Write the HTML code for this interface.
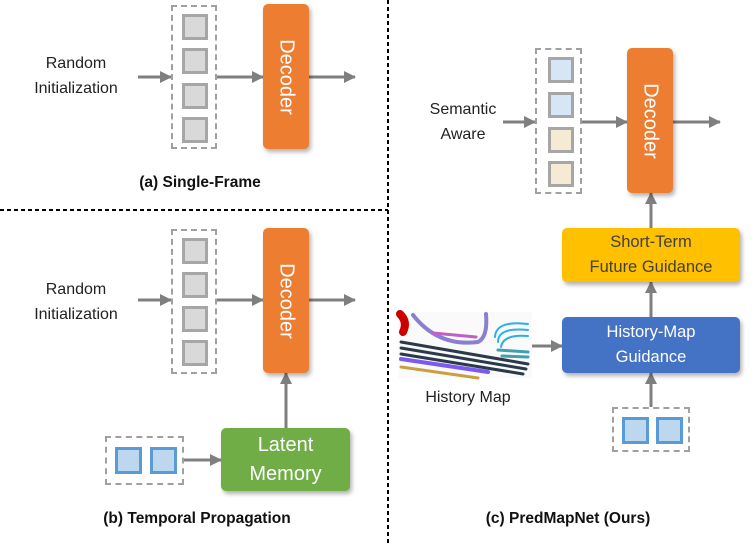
<!DOCTYPE html>
<html><head><style>
body{margin:0;width:753px;height:545px;background:#fff;overflow:hidden;position:relative;font-family:"Liberation Sans",sans-serif}
.a{position:absolute}
.t{position:absolute;font-size:16px;color:#222;text-align:center;line-height:25px;white-space:nowrap}
.cap{position:absolute;font-size:15.5px;font-weight:bold;color:#111;white-space:nowrap;transform:translateX(-50%)}
.dec{position:absolute;background:#ed7d31;border-radius:5px;box-shadow:2px 3px 4px rgba(0,0,0,.3)}
.dec span{position:absolute;left:50%;top:50%;transform:translate(-50%,-50%) rotate(90deg);color:#fff;font-size:20px;white-space:nowrap}
.dash{position:absolute;border:2px dashed #a0a0a0}
.sq{position:absolute;width:20px;height:20px;border:3px solid #a6a6a6;background:#d9d9d9}
.bsq{position:absolute;width:21px;height:21px;border:3px solid #5b9bd5;background:#bdd7ee}
.box{position:absolute;border-radius:5px;box-shadow:2px 3px 4px rgba(0,0,0,.3);text-align:center;font-size:16.5px;line-height:25px;display:flex;align-items:center;justify-content:center}
</style></head><body>
<svg class="a" style="left:0;top:0" width="753" height="545">
<defs>
<marker id="n" markerWidth="12" markerHeight="12" refX="11" refY="6" orient="auto" markerUnits="userSpaceOnUse"><path d="M0,0 L12,6 L0,12z" fill="#7f7f7f"/></marker></defs>
<g stroke="#7f7f7f" stroke-width="3" marker-end="url(#n)">
<line x1="138" y1="77" x2="171" y2="77"/><line x1="216" y1="77" x2="263" y2="77"/><line x1="309" y1="77" x2="355" y2="77"/>
<line x1="138" y1="300" x2="171" y2="300"/><line x1="216" y1="300" x2="263" y2="300"/><line x1="309" y1="300" x2="355" y2="300"/>
<line x1="286" y1="428" x2="286" y2="373"/><line x1="183" y1="460" x2="221" y2="460"/>
<line x1="503" y1="122" x2="535" y2="122"/><line x1="581" y1="122" x2="627" y2="122"/><line x1="673" y1="122" x2="720" y2="122"/>
<line x1="651" y1="228" x2="651" y2="193"/><line x1="651" y1="317" x2="651" y2="282"/><line x1="651" y1="407" x2="651" y2="373"/>
<line x1="532" y1="346" x2="562" y2="346"/>
</g>
<line x1="388" y1="0" x2="388" y2="545" stroke="#000" stroke-width="2" stroke-dasharray="4,3"/>
<line x1="0" y1="210" x2="388" y2="210" stroke="#000" stroke-width="2" stroke-dasharray="4,3"/>
<g transform="translate(398,312)" fill="none" stroke-linecap="round">
<rect width="134" height="66" fill="#fafafa" stroke="none"/>
<path d="M2,2 Q10,10 5,20" stroke="#c00" stroke-width="8"/>
<path d="M15,3 Q40,35 80,30 Q90,25 88,2" stroke="#8a7fd0" stroke-width="4"/>
<path d="M97,25 Q98,8 130,12 M100,30 Q100,15 130,18 M103,35 Q105,22 130,24" stroke="#29b0e8" stroke-width="2"/>
<path d="M35,21 L78,25" stroke="#c060c0" stroke-width="3"/>
<path d="M3,30 L130,52 M3,36 L128,57 M3,42 L125,62" stroke="#2a3a4a" stroke-width="3"/>
<path d="M3,47 L90,60" stroke="#7a5af0" stroke-width="4"/>
<path d="M3,55 L80,66" stroke="#c8a040" stroke-width="3"/>
<path d="M100,38 L130,40 M104,44 L130,45" stroke="#40a0b0" stroke-width="3"/>
</g>
</svg>
<!-- (a) -->
<div class="t" style="left:16px;top:51px;width:120px">Random<br>Initialization</div>
<div class="dash" style="left:171px;top:5px;width:42px;height:140px"></div>
<div class="sq" style="left:182px;top:14px"></div><div class="sq" style="left:182px;top:48px"></div><div class="sq" style="left:182px;top:83px"></div><div class="sq" style="left:182px;top:117px"></div>
<div class="dec" style="left:263px;top:4px;width:46px;height:145px"><span>Decoder</span></div>
<div class="cap" style="left:200px;top:174px">(a) Single-Frame</div>
<!-- (b) -->
<div class="t" style="left:16px;top:277px;width:120px">Random<br>Initialization</div>
<div class="dash" style="left:171px;top:229px;width:42px;height:141px"></div>
<div class="sq" style="left:182px;top:238px"></div><div class="sq" style="left:182px;top:272px"></div><div class="sq" style="left:182px;top:306px"></div><div class="sq" style="left:182px;top:340px"></div>
<div class="dec" style="left:263px;top:228px;width:46px;height:145px"><span>Decoder</span></div>
<div class="dash" style="left:105px;top:436px;width:75px;height:45px"></div>
<div class="bsq" style="left:115px;top:447px"></div><div class="bsq" style="left:150px;top:447px"></div>
<div class="box" style="left:221px;top:428px;width:129px;height:63px;background:#70ad47;color:#fff;font-size:20px;line-height:29px">Latent<br>Memory</div>
<div class="cap" style="left:197px;top:510px">(b) Temporal Propagation</div>
<!-- (c) -->
<div class="t" style="left:403px;top:97px;width:120px">Semantic<br>Aware</div>
<div class="dash" style="left:535px;top:48px;width:43px;height:142px"></div>
<div class="sq" style="left:548px;top:57px;background:#d6e6f6"></div><div class="sq" style="left:548px;top:92px;background:#d6e6f6"></div><div class="sq" style="left:548px;top:127px;background:#f5ead3"></div><div class="sq" style="left:548px;top:161px;background:#f5ead3"></div>
<div class="dec" style="left:627px;top:48px;width:46px;height:145px"><span>Decoder</span></div>
<div class="box" style="left:562px;top:228px;width:178px;height:54px;background:#ffc000;color:#404040">Short-Term<br>Future Guidance</div>
<div class="box" style="left:562px;top:317px;width:178px;height:56px;background:#4472c4;color:#fff">History-Map<br>Guidance</div>
<div class="dash" style="left:612px;top:407px;width:74px;height:41px"></div>
<div class="bsq" style="left:622px;top:417px"></div><div class="bsq" style="left:656px;top:417px"></div>
<div class="t" style="left:408px;top:385px;width:120px">History Map</div>
<div class="cap" style="left:568px;top:510px">(c) PredMapNet (Ours)</div>
</body></html>
